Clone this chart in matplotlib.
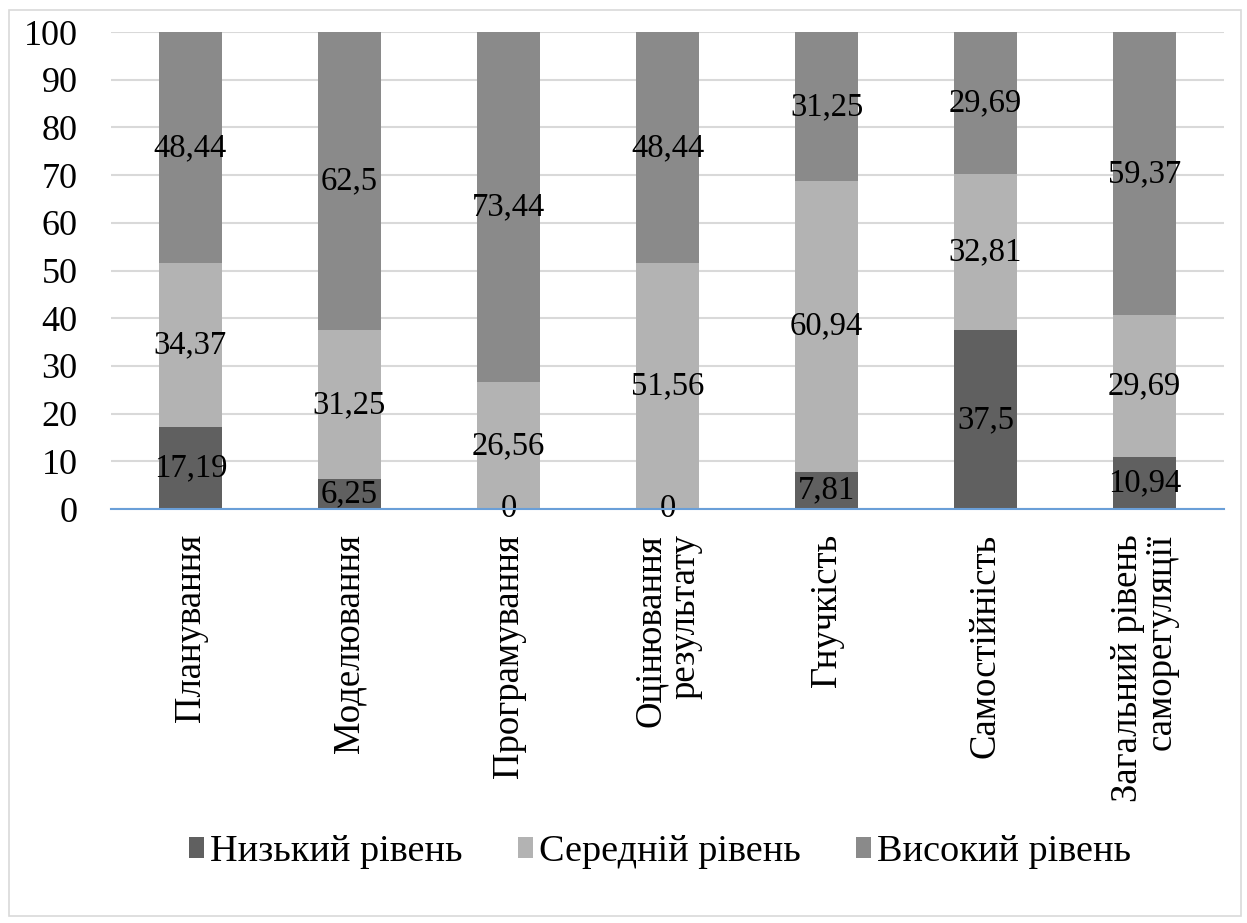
import numpy as np
import matplotlib.pyplot as plt
from matplotlib.patches import Rectangle

plt.rcParams['font.family'] = ['Liberation Serif', 'DejaVu Serif']

# Levels of self-regulation by component, %
categories = ['Планування', 'Моделювання', 'Програмування', 'Оцінювання\nрезультату',
              'Гнучкість', 'Самостійність', 'Загальний рівень\nсаморегуляції']
low = [17.19, 6.25, 0, 0, 7.81, 37.5, 10.94]
mid = [34.37, 31.25, 26.56, 51.56, 60.94, 32.81, 29.69]
high = [48.44, 62.5, 73.44, 48.44, 31.25, 29.69, 59.37]

series = [('Низький рівень', low, '#606060'),
          ('Середній рівень', mid, '#b3b3b3'),
          ('Високий рівень', high, '#8a8a8a')]

fig = plt.figure(figsize=(12.47, 9.23), dpi=100)
ax = fig.add_axes([0.089, 0.4485, 0.8926, 0.5168])

x = np.arange(len(categories))
bottom = np.zeros(len(categories))
for name, vals, color in series:
    vals = np.array(vals, dtype=float)
    ax.bar(x, vals, width=0.4, bottom=bottom, color=color, label=name, zorder=2)
    for xi, b, v in zip(x, bottom, vals):
        ax.text(xi, b + v / 2, f'{v:g}'.replace('.', ','), ha='center', va='center',
                fontsize=23.5, color='black', zorder=3)
    bottom += vals

ax.set_xlim(-0.5, len(categories) - 0.5)
ax.set_ylim(0, 100)
ax.set_yticks(np.arange(0, 101, 10))
ax.tick_params(axis='y', labelsize=26, length=0, pad=24)
ax.set_xticks(x)
ax.set_xticklabels(categories, rotation=90, fontsize=26.5, ha='center', va='top',
                   multialignment='right', linespacing=1.0)
ax.tick_params(axis='x', length=0, pad=18)
ax.grid(axis='y', color='#d9d9d9', linewidth=1.5, zorder=0)
for s in ['top', 'right', 'left']:
    ax.spines[s].set_visible(False)
ax.spines['bottom'].set_color('#6a9fd8')
ax.spines['bottom'].set_linewidth(1.5)
ax.spines['bottom'].set_zorder(4)

fig.legend(loc='center', bbox_to_anchor=(0.529, 0.077), ncol=3, frameon=False,
           fontsize=27.5, handlelength=0.4, handleheight=0.45, handletextpad=0.15,
           columnspacing=1.45)

fig.patches.append(Rectangle((0.007, 0.008), 0.988, 0.981, transform=fig.transFigure,
                             fill=False, edgecolor='#d9d9d9', linewidth=1.2))

fig.savefig('out.png', dpi=100)
